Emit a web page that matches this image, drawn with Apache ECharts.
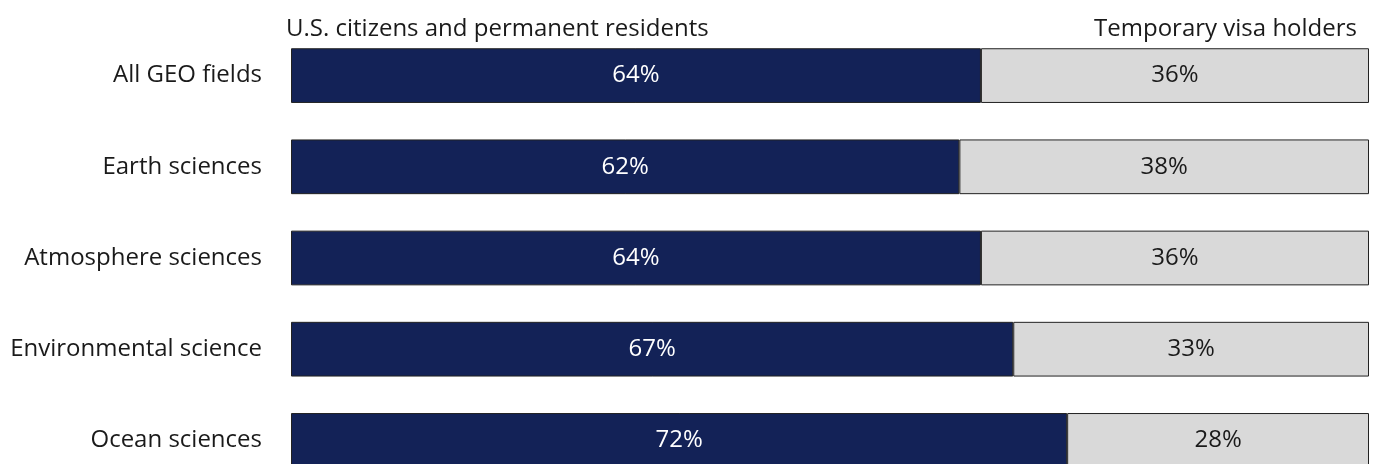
<!DOCTYPE html>
<html>
<head>
<meta charset="utf-8">
<script src="https://cdn.jsdelivr.net/npm/echarts@6/dist/echarts.min.js"></script>
<style>
html,body{margin:0;padding:0;background:#fff;}
#chart{width:1379px;height:464px;}
</style>
</head>
<body>
<div id="chart"></div>
<script>
const categories = ["All GEO fields", "Earth sciences", "Atmosphere sciences", "Environmental science", "Ocean sciences"];
const citizens = [64, 62, 64, 67, 72];
const visa = [36, 38, 36, 33, 28];
const seriesNames = ["U.S. citizens and permanent residents", "Temporary visa holders"];

const FONT = "'Open Sans', sans-serif";
const FS = 24;
const chart = echarts.init(document.getElementById('chart'));
chart.setOption({
  animation: false,
  title: [
    { text: seriesNames[0], left: 281, top: 12, textStyle: { fontFamily: FONT, fontSize: FS, fontWeight: 'normal', color: '#1a1a1a' } },
    { text: seriesNames[1], right: 17, top: 12, textStyle: { fontFamily: FONT, fontSize: FS, fontWeight: 'normal', color: '#1a1a1a' } }
  ],
  grid: { left: 291, right: 10, top: 30, height: 456, containLabel: false, outerBoundsMode: 'none' },
  xAxis: { type: 'value', min: 0, max: 100, show: false },
  yAxis: {
    type: 'category', data: categories, inverse: true,
    axisLine: { show: false }, axisTick: { show: false },
    axisLabel: { fontFamily: FONT, fontSize: FS, color: '#1a1a1a', margin: 29 }
  },
  series: [
    {
      name: seriesNames[0], type: 'bar', stack: 'a', data: citizens, barCategoryGap: '40%',
      itemStyle: { color: '#132257', borderColor: '#222', borderWidth: 1 },
      label: { show: true, position: 'inside', formatter: '{c}%', fontFamily: FONT, fontSize: FS, color: '#fff' }
    },
    {
      name: seriesNames[1], type: 'bar', stack: 'a', data: visa, barCategoryGap: '40%',
      itemStyle: { color: '#d9d9d9', borderColor: '#222', borderWidth: 1 },
      label: { show: true, position: 'inside', formatter: '{c}%', fontFamily: FONT, fontSize: FS, color: '#1a1a1a' }
    }
  ]
});
</script>
</body>
</html>
